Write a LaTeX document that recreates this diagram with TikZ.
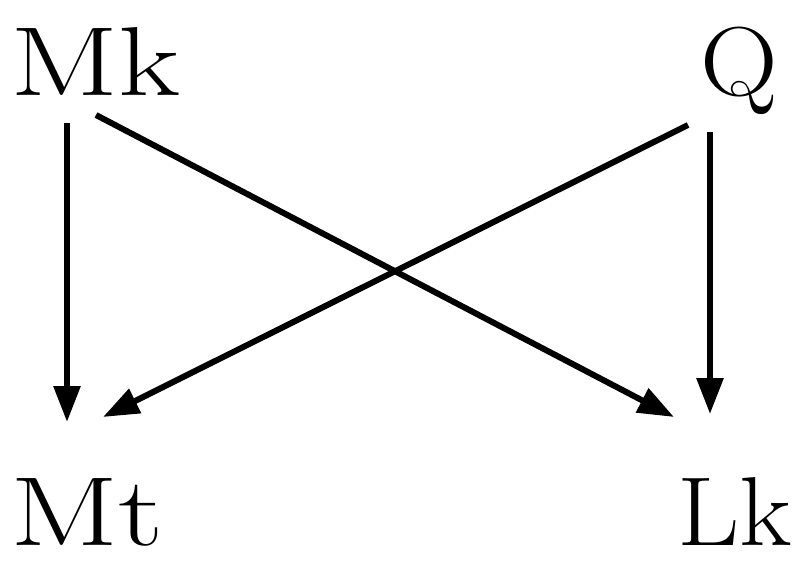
\documentclass[tikz,border=0pt]{standalone}
\usetikzlibrary{arrows.meta}
\begin{document}
\begin{tikzpicture}[x=1pt,y=-1pt,
  lbl/.style={inner sep=0pt,font=\fontsize{98}{98}\selectfont},
  arr/.style={line width=6pt,-{Triangle[length=36pt,width=26pt]}}]
\useasboundingbox (0,0) rectangle (795,573);
\node[lbl,anchor=base west,xscale=1.3,transform shape] (mk) at (10,95) {Mk};
\node[lbl,anchor=base east,xscale=1.1,transform shape] (q) at (778,95) {Q};
\node[lbl,anchor=base west,xscale=1.3,transform shape] (mt) at (10,545) {Mt};
\node[lbl,anchor=base east,xscale=1.1,transform shape] (lk) at (792,545) {Lk};
\coordinate (a1) at (67,123);
\coordinate (a2) at (67,422);
\coordinate (b1) at (96,115);
\coordinate (b2) at (674,417);
\coordinate (c1) at (688,125);
\coordinate (c2) at (103,417);
\coordinate (d1) at (710,132);
\coordinate (d2) at (710,414);
\draw[arr] (a1) -- (a2);
\draw[arr] (b1) -- (b2);
\draw[arr] (c1) -- (c2);
\draw[arr] (d1) -- (d2);
\end{tikzpicture}
\end{document}
